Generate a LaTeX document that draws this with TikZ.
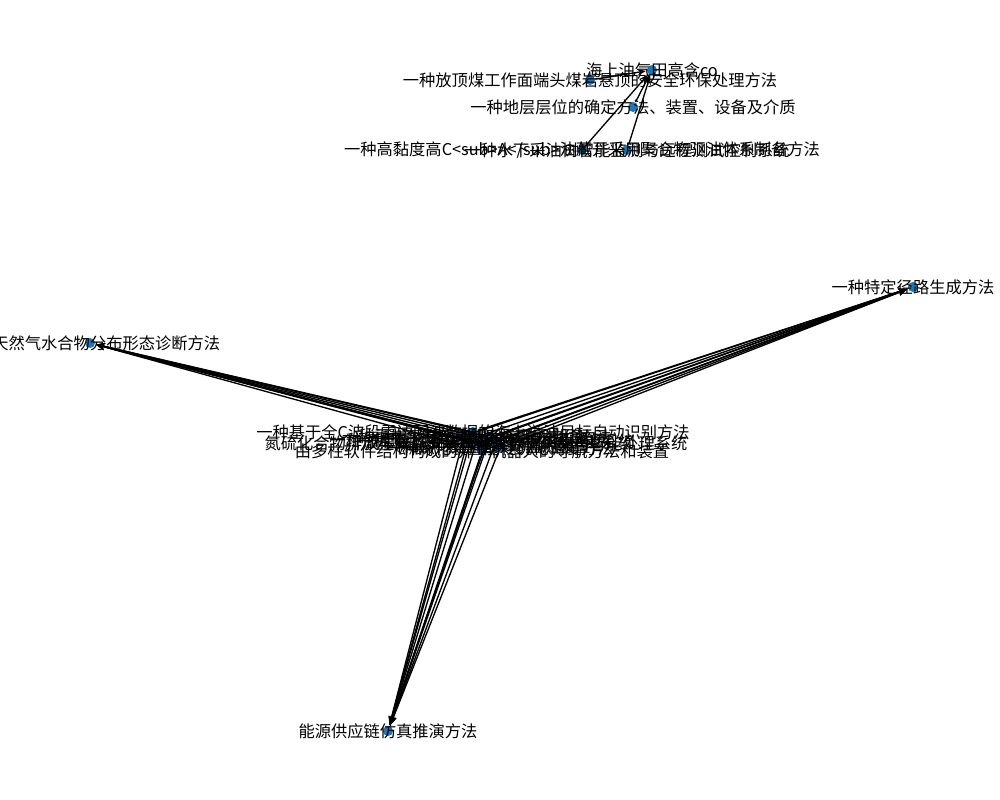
\documentclass[tikz,border=0pt]{standalone}
\usepackage{fontspec}
\setmainfont{Noto Sans CJK SC}
\usetikzlibrary{arrows.meta}

\definecolor{nodeblue}{HTML}{1F77B4}

\tikzset{every picture/.style={line width=0.75pt}}
\tikzset{
  dot/.style={circle,fill=nodeblue,draw=none,inner sep=0pt,minimum size=7.5pt},
  lbl/.style={inner sep=0pt,font=\fontsize{12.2}{14}\selectfont},
  edge/.style={draw=black,line width=1pt,-{Stealth[length=6.5pt,width=5pt]},shorten >=0.5pt}
}

\begin{document}
\begin{tikzpicture}[x=0.75pt,y=0.75pt,yscale=-1,xscale=1]
        %set diagram frame at 1000 x 800
        \useasboundingbox (0,0) rectangle (1000,800);

        %Shape: Circle [hubs]
        \node [dot] (hubsea) at (652,70) {};
        \node [dot] (hubgas) at (90,343) {};
        \node [dot] (hubpath) at (913,287) {};
        \node [dot] (hubenergy) at (388,731) {};

        %Shape: Circle [top group]
        \node [dot] (coal) at (590,80) {};
        \node [dot] (layer) at (633,107) {};
        \node [dot] (viscous) at (582,150) {};
        \node [dot] (subsea) at (627,150) {};

        %Shape: Circle [middle group]
        \node [dot] (satellite) at (473,432) {};
        \node [dot] (nitro) at (476,443) {};
        \node [dot] (robot) at (482,451) {};
        \node [dot] (pipeleak) at (490,437) {};
        \node [dot] (fracture) at (468,440) {};
        \node [dot] (drilling) at (485,446) {};
        \node [dot] (offwind) at (496,441) {};
        \node [dot] (shale) at (464,436) {};
        \node [dot] (refinery) at (500,448) {};

        %Straight Lines [top group]
        \draw [edge] (coal) -- (hubsea);
        \draw [edge] (layer) -- (hubsea);
        \draw [edge] (viscous) -- (hubsea);
        \draw [edge] (subsea) -- (hubsea);

        %Straight Lines [middle group to hubs]
        \foreach \n in {satellite,nitro,robot,pipeleak,fracture,drilling,offwind,shale,refinery}{
          \draw [edge] (\n) -- (hubgas);
          \draw [edge] (\n) -- (hubpath);
          \draw [edge] (\n) -- (hubenergy);
        }

        % Text Node
        \node [lbl] (tsea) at (hubsea) {海上油气田高含co};
        % Text Node
        \node [lbl] (tgas) at (hubgas) {一种天然气水合物分布形态诊断方法};
        % Text Node
        \node [lbl] (tpath) at (hubpath) {一种特定径路生成方法};
        % Text Node
        \node [lbl] (tenergy) at (hubenergy) {能源供应链仿真推演方法};
        % Text Node
        \node [lbl] (tcoal) at (coal) {一种放顶煤工作面端头煤岩悬顶的安全环保处理方法};
        % Text Node
        \node [lbl] (tlayer) at (layer) {一种地层层位的确定方法、装置、设备及介质};
        % Text Node
        \node [lbl] (tviscous) at (viscous) {一种高黏度高C<sub>A</sub>油藏开采用聚合物驱油体系制备方法};
        % Text Node
        \node [lbl] (tsubsea) at (subsea) {一种水下采油树智能监测与远程测试控制系统};
        % Text Node
        \node [lbl] (tsatellite) at (satellite) {一种基于全C波段雷达回波数据的海上溢油目标自动识别方法};
        % Text Node
        \node [lbl] (tnitro) at (nitro) {氮硫化合物排放在线监测装置及其数据采集与智能处理系统};
        % Text Node
        \node [lbl] (trobot) at (robot) {由多柱软件结构构成的井下机器人的导航方法和装置};
        % Text Node
        \node [lbl] (tpipeleak) at (pipeleak) {一种油气管道泄漏检测与定位方法};
        % Text Node
        \node [lbl] (tfracture) at (fracture) {一种储层裂缝参数智能预测模型及系统};
        % Text Node
        \node [lbl] (tdrilling) at (drilling) {一种钻井液性能实时监测装置};
        % Text Node
        \node [lbl] (toffwind) at (offwind) {一种海上风电与油气平台协同供能系统};
        % Text Node
        \node [lbl] (tshale) at (shale) {一种页岩气井产能评价方法及设备};
        % Text Node
        \node [lbl] (trefinery) at (refinery) {一种炼化装置能耗优化调度方法};

    \end{tikzpicture}
\end{document}
